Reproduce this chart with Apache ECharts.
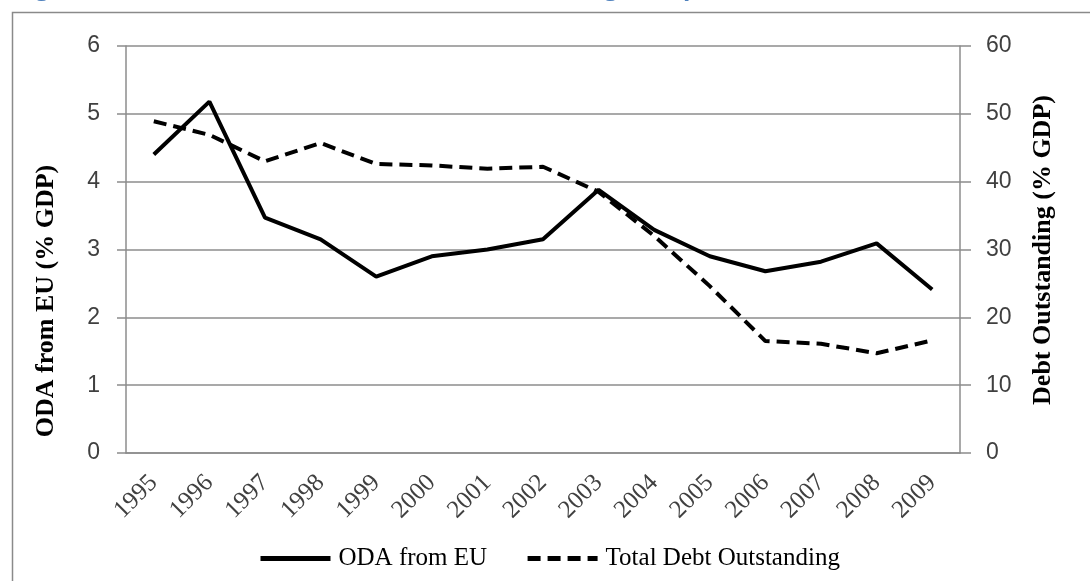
<!DOCTYPE html>
<html>
<head>
<meta charset="utf-8">
<script src="https://cdn.jsdelivr.net/npm/echarts@6/dist/echarts.min.js"></script>
<style>
	html, body { margin: 0; padding: 0; background: #fff; }
	#chart { width: 1090px; height: 581px; }
</style>
</head>
<body>
<div id="chart"></div>
<script>
// Data
var years = ['1995', '1996', '1997', '1998', '1999', '2000', '2001', '2002', '2003', '2004', '2005', '2006', '2007', '2008', '2009'];
var odaFromEU = [4.40, 5.18, 3.47, 3.15, 2.60, 2.90, 3.00, 3.15, 3.88, 3.29, 2.90, 2.68, 2.82, 3.09, 2.41];
var totalDebt = [48.9, 46.9, 43.0, 45.7, 42.6, 42.4, 41.9, 42.2, 38.5, 32.0, 24.6, 16.5, 16.1, 14.7, 16.6];
var leftTicks = [0, 6, 1];
var rightTicks = [0, 60, 10];

var grey = '#8c8c8c';
var labelColor = '#404040';

function GenerateChart() {
	var chart = echarts.init(document.getElementById('chart'), null, {renderer: 'canvas'});

	chart.setOption({
		animation: false,
		backgroundColor: '#fff',
		grid: {left: 126, right: 130, top: 46, bottom: 128},
		graphic: [
			// cropped figure caption at the very top
			{
				type: 'text', left: 15, top: -24,
				style: {text: 'Figure 6: ODA from EU and Total Debt Outstanding in Cape Verde (1995-2009)', fill: '#4f81bd', font: 'bold 24px "Open Sans"'}
			},
			// chart frame
			{
				type: 'rect', shape: {x: 12.5, y: 12.5, width: 1100, height: 600},
				style: {fill: 'none', stroke: '#8a8a8a', lineWidth: 1.5}
			},
			{
				type: 'text', x: 46, y: 301, rotation: Math.PI / 2,
				style: {text: 'ODA from EU (% GDP)', fill: '#000', font: 'bold 26px "Liberation Serif"', align: 'center', verticalAlign: 'middle'}
			},
			{
				type: 'text', x: 1043, y: 250, rotation: Math.PI / 2,
				style: {text: 'Debt Outstanding (% GDP)', fill: '#000', font: 'bold 26px "Liberation Serif"', align: 'center', verticalAlign: 'middle'}
			}
		],
		legend: {
			top: 541,
			left: 253,
			itemWidth: 70,
			itemHeight: 14,
			itemGap: 38,
			itemStyle: {opacity: 0},
			lineStyle: {width: 5},
			textStyle: {fontFamily: 'Liberation Serif', fontSize: 25, color: '#000', padding: [0, 0, 0, 3]},
			data: ['ODA from EU', 'Total Debt Outstanding']
		},
		xAxis: {
			type: 'category',
			data: years,
			boundaryGap: true,
			axisLine: {lineStyle: {color: grey, width: 1.5}},
			axisTick: {length: 10, lineStyle: {color: grey, width: 1.5}},
			axisLabel: {rotate: 45, margin: 26, fontFamily: 'Liberation Serif', fontSize: 25, color: labelColor}
		},
		yAxis: [
			{
				type: 'value',
				min: leftTicks[0], max: leftTicks[1], interval: leftTicks[2],
				axisLine: {show: true, lineStyle: {color: grey, width: 1.5}},
				axisTick: {show: true, length: 9, lineStyle: {color: grey, width: 1.5}},
				axisLabel: {margin: 26, fontFamily: 'Liberation Sans', fontSize: 23, color: labelColor},
				splitLine: {lineStyle: {color: grey, width: 1.5}}
			},
			{
				type: 'value',
				position: 'right',
				min: rightTicks[0], max: rightTicks[1], interval: rightTicks[2],
				axisLine: {show: true, lineStyle: {color: grey, width: 1.5}},
				axisTick: {show: true, length: 11, lineStyle: {color: grey, width: 1.5}},
				axisLabel: {margin: 26, fontFamily: 'Liberation Sans', fontSize: 23, color: labelColor},
				splitLine: {show: false}
			}
		],
		series: [
			{
				name: 'ODA from EU',
				type: 'line',
				yAxisIndex: 0,
				data: odaFromEU,
				symbol: 'none',
				itemStyle: {color: '#000'},
				lineStyle: {color: '#000', width: 4}
			},
			{
				name: 'Total Debt Outstanding',
				type: 'line',
				yAxisIndex: 1,
				data: totalDebt,
				symbol: 'none',
				itemStyle: {color: '#000'},
				lineStyle: {color: '#000', width: 4, type: [13, 7]}
			}
		]
	});
}

GenerateChart();
</script>
</body>
</html>
